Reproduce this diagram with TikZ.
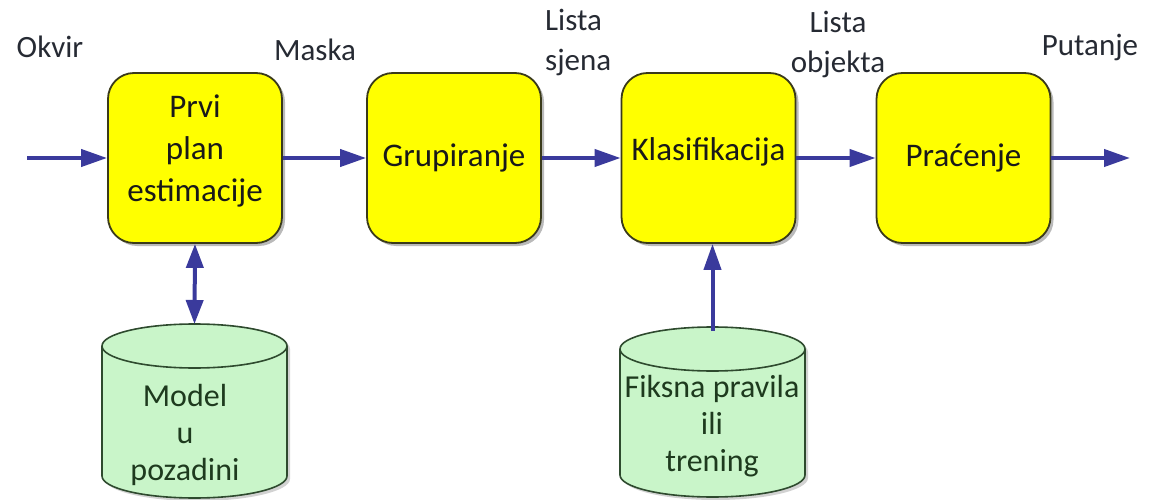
\documentclass[tikz,border=0pt]{standalone}
\usepackage{fontspec}
\setmainfont{Carlito}
\usetikzlibrary{arrows.meta,shadows}
\definecolor{arrowblue}{HTML}{3A3A9C}
\definecolor{boxyellow}{HTML}{FFFF00}
\definecolor{boxborder}{HTML}{3A3A1A}
\definecolor{cylfill}{HTML}{C9F5C9}
\definecolor{cylborder}{HTML}{2E4A2E}
\definecolor{cyltext}{HTML}{1E3A1E}
\definecolor{labeltext}{HTML}{262A33}
\newcommand{\dbcylinder}[4]{% cx, top y, bottom y, name
  \pgfmathsetmacro{\cx}{#1}\pgfmathsetmacro{\tc}{#2+22}\pgfmathsetmacro{\bc}{#3-22}
  \fill[black!35, opacity=0.5] ({\cx-92.5+3},{\tc+3}) -- ({\cx-92.5+3},{\bc+3}) arc[start angle=180,end angle=360,x radius=92.5pt,y radius=22pt]
     -- ({\cx+92.5+3},{\tc+3}) arc[start angle=0,end angle=180,x radius=92.5pt,y radius=22pt] -- cycle;
  \filldraw[cylstyle] ({\cx-92.5},{\tc}) -- ({\cx-92.5},{\bc}) arc[start angle=180,end angle=360,x radius=92.5pt,y radius=22pt]
     -- ({\cx+92.5},{\tc}) arc[start angle=0,end angle=180,x radius=92.5pt,y radius=22pt] -- cycle;
  \draw[cylstyle, fill=none] ({\cx-92.5},{\tc}) arc[start angle=180,end angle=360,x radius=92.5pt,y radius=22pt];
  \coordinate (#4) at (\cx,#2);
}
\begin{document}
\begin{tikzpicture}[x=1pt,y=-1pt,
  procbox/.style={draw=boxborder, line width=1.8pt, fill=boxyellow, rounded corners=26pt,
    minimum width=174pt, minimum height=170pt, align=center, inner sep=2pt,
    font=\fontsize{33}{42}\selectfont, text=black!90,
    drop shadow={shadow xshift=3pt, shadow yshift=-3pt, fill=black!45, opacity=0.6}},
  cylstyle/.style={draw=cylborder, line width=1.6pt, fill=cylfill},
  cyltxt/.style={align=center, font=\fontsize{32}{37}\selectfont, text=cyltext, inner sep=0pt},
  lbl/.style={align=center, font=\fontsize{31}{40}\selectfont, text=labeltext, inner sep=0pt},
  flow/.style={draw=arrowblue, line width=4pt, -{Triangle[length=26pt,width=17pt]}},
  flowboth/.style={draw=arrowblue, line width=4pt, {Triangle[length=24pt,width=17pt]}-{Triangle[length=24pt,width=17pt]}}
]
\useasboundingbox (0,0) rectangle (1149,500);
\node[procbox] (est) at (195,158) {\raisebox{7pt}[\height][\depth]{\begin{tabular}{@{}c@{}}Prvi\\plan\\estimacije\end{tabular}}};
\node[procbox] (grp) at (454,158) {Grupiranje};
\node[procbox] (cls) at (708.5,158) {\raisebox{6pt}[\height][\depth]{Klasifikacija}};
\node[procbox] (trk) at (963.5,158) {Praćenje};

\dbcylinder{194.5}{324}{498}{bgm}
\dbcylinder{712.5}{327}{497}{rules}
\node[cyltxt] (bgmtxt) at (185,435) {Model\\u\\pozadini};
\node[cyltxt] (rulestxt) at (712,426) {Fiksna pravila\\ili\\trening};

\coordinate (in) at (27,158);
\coordinate (out) at (1130,158);
\draw[flow] (in) -- (est.west);
\draw[flow] (est.east) -- (grp.west);
\draw[flow] (grp.east) -- (cls.west);
\draw[flow] (cls.east) -- (trk.west);
\draw[flow] (trk.east) -- (out);
\draw[flowboth] (est.south) -- (bgm);
\draw[flow] ([yshift=-4pt]rules) -- (rules |- cls.south);

\node[lbl] (okvir) at (50,47) {Okvir};
\node[lbl] (maska) at (315,50) {Maska};
\node[lbl, align=left, anchor=west] (sjena) at (545,42) {Lista\\sjena};
\node[lbl] (objekta) at (838,44) {Lista\\objekta};
\node[lbl] (putanje) at (1090,47) {Putanje};
\end{tikzpicture}
\end{document}
